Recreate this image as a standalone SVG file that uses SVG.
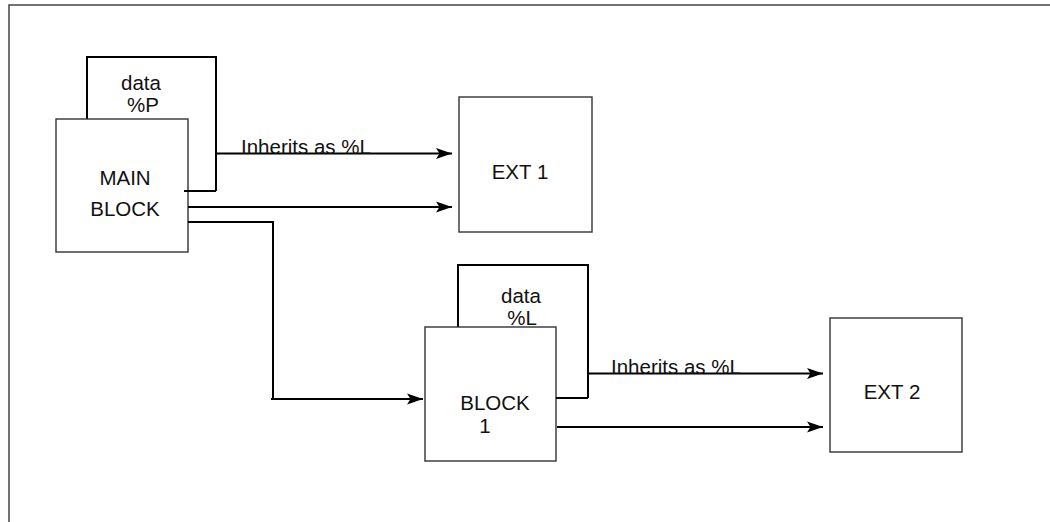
<svg xmlns="http://www.w3.org/2000/svg" width="1050" height="522" viewBox="0 0 1050 522">
<style>
.box{fill:#fff;stroke:#333;stroke-width:1.4}
.dat{fill:none;stroke:#000;stroke-width:2}
.con{fill:none;stroke:#000;stroke-width:2}
text{font-family:"Liberation Sans",Arial,sans-serif;font-size:20.5px;fill:#111;text-anchor:middle}
.lbl{text-anchor:start}
</style>
<defs>
<marker id="arr" markerUnits="userSpaceOnUse" markerWidth="18" markerHeight="12" refX="16" refY="6" orient="auto">
<path d="M0,0.5 L16,6 L0,11.5 L3.5,6 Z" fill="#000"/>
</marker>
</defs>
<rect x="9" y="5" width="1100" height="600" fill="none" stroke="#444" stroke-width="1.5"/>
<g id="main-block">
<path class="dat" d="M87,119 V57 H216 V191"/>
<text x="141" y="90">data</text>
<text x="143" y="112">%P</text>
<rect class="box" x="56" y="119" width="132" height="133"/>
<text x="125" y="185">MAIN</text>
<text x="125" y="216">BLOCK</text>
<path class="dat" d="M216,191 H184"/>
</g>
<g id="ext1">
<rect class="box" x="459" y="97" width="133" height="135"/>
<text x="520" y="179">EXT 1</text>
</g>
<g id="block1">
<path class="dat" d="M458,327 V265 H588 V398"/>
<text x="521" y="303">data</text>
<text x="522" y="325">%L</text>
<rect class="box" x="425" y="327" width="131" height="134"/>
<text x="495" y="410">BLOCK</text>
<text x="485" y="433">1</text>
<path class="dat" d="M588,398 H556"/>
</g>
<g id="ext2">
<rect class="box" x="830" y="318" width="132" height="134"/>
<text x="892" y="399">EXT 2</text>
</g>
<g id="connectors">
<path class="con" d="M216,153.5 H452" marker-end="url(#arr)"/>
<text class="lbl" x="241" y="154">Inherits as %L</text>
<path class="con" d="M188,207 H452" marker-end="url(#arr)"/>
<path class="con" d="M188,222 H273 V399"/>
<path class="con" d="M271,399 H423" marker-end="url(#arr)"/>
<path class="con" d="M588,373.5 H823" marker-end="url(#arr)"/>
<text class="lbl" x="611" y="374">Inherits as %L</text>
<path class="con" d="M557,427 H823" marker-end="url(#arr)"/>
</g>
</svg>
